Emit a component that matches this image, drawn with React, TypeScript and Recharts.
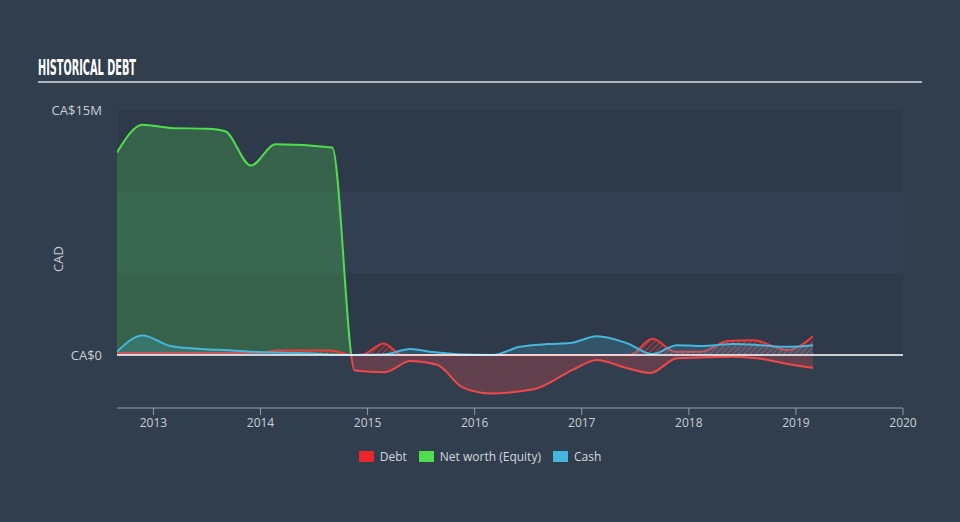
import React from 'react';
import { AreaChart, Area, XAxis, YAxis, ReferenceLine, ReferenceArea } from 'recharts';

// [decimal year, CA$ millions]
const debt: [number, number][] = [
    [2012.66, 0.12], [2013.5, 0.12], [2014.0, 0.14], [2014.15, 0.27], [2014.65, 0.27],
    [2014.86, 0], [2014.95, 0.02], [2015.15, 0.7], [2015.32, 0], [2016.0, 0],
    [2017.0, 0], [2017.45, 0], [2017.66, 1.0], [2017.87, 0.2], [2018.12, 0.2],
    [2018.36, 0.85], [2018.6, 0.9], [2018.92, 0.3], [2019.16, 1.15],
];

const equity: [number, number][] = [
    [2012.66, 12.4], [2012.9, 14.1], [2013.16, 13.9], [2013.5, 13.85], [2013.67, 13.7],
    [2013.91, 11.6], [2014.14, 12.9], [2014.67, 12.7], [2014.88, -0.95], [2015.16, -1.05],
    [2015.4, -0.37], [2015.65, -0.6], [2015.89, -2.0], [2016.14, -2.35], [2016.55, -2.1],
    [2016.92, -0.9], [2017.14, -0.3], [2017.42, -0.8], [2017.64, -1.1], [2017.89, -0.2],
    [2018.42, -0.1], [2018.64, -0.2], [2018.92, -0.55], [2019.16, -0.8],
];

const cash: [number, number][] = [
    [2012.66, 0.2], [2012.9, 1.2], [2013.16, 0.55], [2013.44, 0.37], [2013.74, 0.28],
    [2013.99, 0.18], [2014.37, 0.12], [2014.86, 0], [2015.15, 0.03], [2015.4, 0.37],
    [2015.61, 0.18], [2015.84, 0.05], [2016.17, 0], [2016.42, 0.5], [2016.68, 0.67],
    [2016.89, 0.73], [2017.14, 1.15], [2017.42, 0.73], [2017.66, 0.06], [2017.89, 0.6],
    [2018.11, 0.55], [2018.42, 0.67], [2018.67, 0.6], [2018.92, 0.5], [2019.16, 0.6],
];

const yearTicks = [2013, 2014, 2015, 2016, 2017, 2018, 2019, 2020];
const valueTicks = [0, 15];
const legendItems = [
    { name: 'Debt', color: '#e8262b' },
    { name: 'Net worth (Equity)', color: '#4fdc4d' },
    { name: 'Cash', color: '#47b6dd' },
];

// merge the three series onto one x grid
const rows: Record<number, any> = {};
const put = (list: [number, number][], key: string) =>
    list.forEach(([t, v]) => {
        rows[t] = rows[t] || { t };
        rows[t][key] = v;
    });
put(debt, 'debt');
put(equity, 'equity');
put(cash, 'cash');
const data = Object.values(rows).sort((a, b) => a.t - b.t);

const eqMax = Math.max(...equity.map((d) => d[1]));
const eqMin = Math.min(...equity.map((d) => d[1]));
const zeroOff = eqMax / (eqMax - eqMin);

const font = '"Open Sans", Lato, sans-serif';
const fmt = (v: number) => (v === 0 ? 'CA$0' : `CA$${v}M`);

const App = () => {
    return (
        <div style={{ position: 'fixed', left: 0, top: 0, width: 960, height: 522, background: '#313e4e', fontFamily: font }}>
            <svg width={960} height={100} style={{ position: 'absolute', left: 0, top: 0 }}>
                <text x={38} y={75} fill="#ffffff" fontSize={22} fontWeight="bold"
                    fontFamily='"Liberation Sans Narrow", "DejaVu Sans Condensed", sans-serif'
                    textLength={98} lengthAdjust="spacingAndGlyphs">
                    HISTORICAL DEBT
                </text>
                <rect x={38} y={81} width={884} height={2} fill="#aeb3b9" />
            </svg>

            <div style={{ position: 'absolute', left: 0, top: 0 }}>
                <AreaChart width={960} height={522} data={data} margin={{ top: 110, right: 57, bottom: 84, left: 0 }}>
                    <defs>
                        <linearGradient id="eqStroke" x1="0" y1="0" x2="0" y2="1">
                            <stop offset={zeroOff} stopColor="#4fdc4d" />
                            <stop offset={zeroOff} stopColor="#f04848" />
                        </linearGradient>
                        <linearGradient id="eqFill" x1="0" y1="0" x2="0" y2="1">
                            <stop offset={zeroOff} stopColor="#4fdc4d" stopOpacity={0.25} />
                            <stop offset={zeroOff} stopColor="#f04848" stopOpacity={0.25} />
                        </linearGradient>
                        <pattern id="hatch" width={4} height={4} patternUnits="userSpaceOnUse" patternTransform="rotate(45)">
                            <rect width={4} height={4} fill="#e8262b" fillOpacity={0.12} />
                            <line x1={0} y1={0} x2={0} y2={4} stroke="#f04848" strokeWidth={1.2} />
                        </pattern>
                    </defs>

                    <ReferenceArea y1={10} y2={15} fill="#2e3a4a" fillOpacity={1} stroke="none" />
                    <ReferenceArea y1={5} y2={10} fill="#324051" fillOpacity={1} stroke="none" />
                    <ReferenceArea y1={0} y2={5} fill="#2e3a4a" fillOpacity={1} stroke="none" />

                    <XAxis
                        dataKey="t"
                        type="number"
                        domain={[2012.66, 2020]}
                        ticks={yearTicks}
                        allowDataOverflow
                        axisLine={{ stroke: '#8f9ba7' }}
                        tickLine={{ stroke: '#8f9ba7' }}
                        tickSize={7}
                        tickMargin={3}
                        tick={{ fill: '#c9ced3', fontSize: 12, fontFamily: font }}
                    />
                    <YAxis
                        type="number"
                        width={117}
                        domain={[-3.245, 15]}
                        ticks={valueTicks}
                        allowDataOverflow
                        axisLine={false}
                        tickLine={false}
                        tickSize={0}
                        tickMargin={15}
                        tickFormatter={fmt}
                        tick={{ fill: '#c9ced3', fontSize: 13, fontFamily: font }}
                        label={{
                            value: 'CAD',
                            angle: -90,
                            position: 'insideLeft',
                            offset: 58,
                            fill: '#c9ced3',
                            fontSize: 13,
                            fontFamily: font,
                            style: { textAnchor: 'middle' },
                        }}
                    />

                    <Area
                        type="monotone"
                        dataKey="equity"
                        baseValue={0}
                        connectNulls
                        stroke="url(#eqStroke)"
                        strokeWidth={2}
                        fill="url(#eqFill)"
                        fillOpacity={1}
                        dot={false}
                        activeDot={false}
                        isAnimationActive={false}
                    />
                    <Area
                        type="monotone"
                        dataKey="debt"
                        baseValue={0}
                        connectNulls
                        stroke="#f03a3a"
                        strokeWidth={2}
                        fill="url(#hatch)"
                        fillOpacity={1}
                        dot={false}
                        activeDot={false}
                        isAnimationActive={false}
                    />
                    <Area
                        type="monotone"
                        dataKey="cash"
                        baseValue={0}
                        connectNulls
                        stroke="#47b6dd"
                        strokeWidth={2}
                        fill="#47b6dd"
                        fillOpacity={0.22}
                        dot={false}
                        activeDot={false}
                        isAnimationActive={false}
                    />
                    <ReferenceLine y={0} stroke="#ffffff" strokeWidth={1.5} />
                </AreaChart>
            </div>

            <div style={{ position: 'absolute', left: 0, top: 448, width: 960, display: 'flex', justifyContent: 'center' }}>
                {legendItems.map((item, i) => (
                    <div key={`legend-${i}`} style={{ display: 'flex', alignItems: 'center', margin: '0 6px' }}>
                        <div style={{ width: 15, height: 11, background: item.color, marginRight: 6 }} />
                        <span style={{ color: '#d3d7db', fontSize: 12 }}>{item.name}</span>
                    </div>
                ))}
            </div>
        </div>
    );
};

export default App;
